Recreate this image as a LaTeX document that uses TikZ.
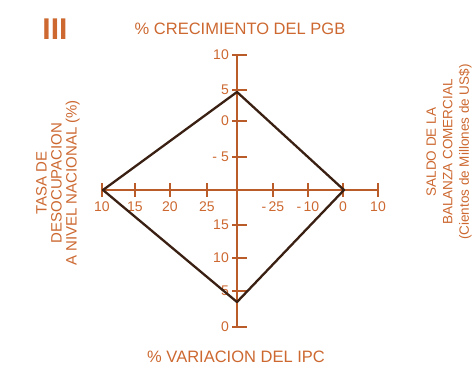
\documentclass[tikz,border=0pt]{standalone}
\usepackage{fontspec}
\setmainfont{Liberation Sans}
\definecolor{axisbrown}{RGB}{185,92,42}
\definecolor{txtorange}{RGB}{204,104,48}
\definecolor{rhombus}{RGB}{58,32,18}
\begin{document}
\begin{tikzpicture}[
  x=1pt, y=-1pt,
  axisline/.style={axisbrown, line width=1.3pt},
  ticklbl/.style={text=txtorange, font=\fontsize{14}{16}\selectfont, inner sep=0pt},
  ttl/.style={text=txtorange, font=\fontsize{16.5}{18}\selectfont, inner sep=0pt},
  sidelbl/.style={text=txtorange, rotate=90, align=center, inner sep=0pt}
]
\useasboundingbox (0,0) rectangle (474,365);

% titles
\node [text=txtorange, font=\fontsize{30}{30}\selectfont\bfseries, inner sep=0pt] (num) at (55,29) {III};
\node [ttl] (pgb) at (240,29) {\% CRECIMIENTO DEL PGB};
\node [ttl] (ipc) at (236,357) {\% VARIACION DEL IPC};
\node [sidelbl, font=\fontsize{15}{15}\selectfont] (desoc) at (58,183)
  {TASA DE\\DESOCUPACION\\A NIVEL NACIONAL (\%)};
\node [sidelbl, font=\fontsize{13.5}{16.5}\selectfont] (saldo) at (449,152)
  {SALDO DE LA\\BALANZA COMERCIAL\\(Cientos de Millones de US\$)};

% axes
\coordinate (vtop) at (237,55);
\coordinate (vbot) at (237,327);
\coordinate (hlft) at (102,190);
\coordinate (hrgt) at (378,190);
\draw [axisline] (vtop) -- (vbot);
\draw [axisline] (hlft) -- (hrgt);

\foreach \x/\t [count=\i] in {102/10,135/15,170/20,207/25,273/{-\,25},308/{-\,10},343/0,378/10} {
  \draw [axisline] (\x,183) -- (\x,197);
  \node [ticklbl] (hx\i) at (\x,207) {\t};
}
\foreach \y/\t [count=\i] in {55/10,90/5,121/0,157/{-\;5},225/15,258/10,291/5,327/0} {
  \draw [axisline] (232,\y) -- (247,\y);
  \node [ticklbl, anchor=east] (vy\i) at (229,\y) {\t};
}

% rhombus
\coordinate (ptop) at (237,92);
\coordinate (prgt) at (344,190);
\coordinate (pbot) at (237,302);
\coordinate (plft) at (103,190);
\draw [rhombus, line width=2.3pt, line join=round] (ptop) -- (prgt) -- (pbot) -- (plft) -- cycle;
\end{tikzpicture}
\end{document}
